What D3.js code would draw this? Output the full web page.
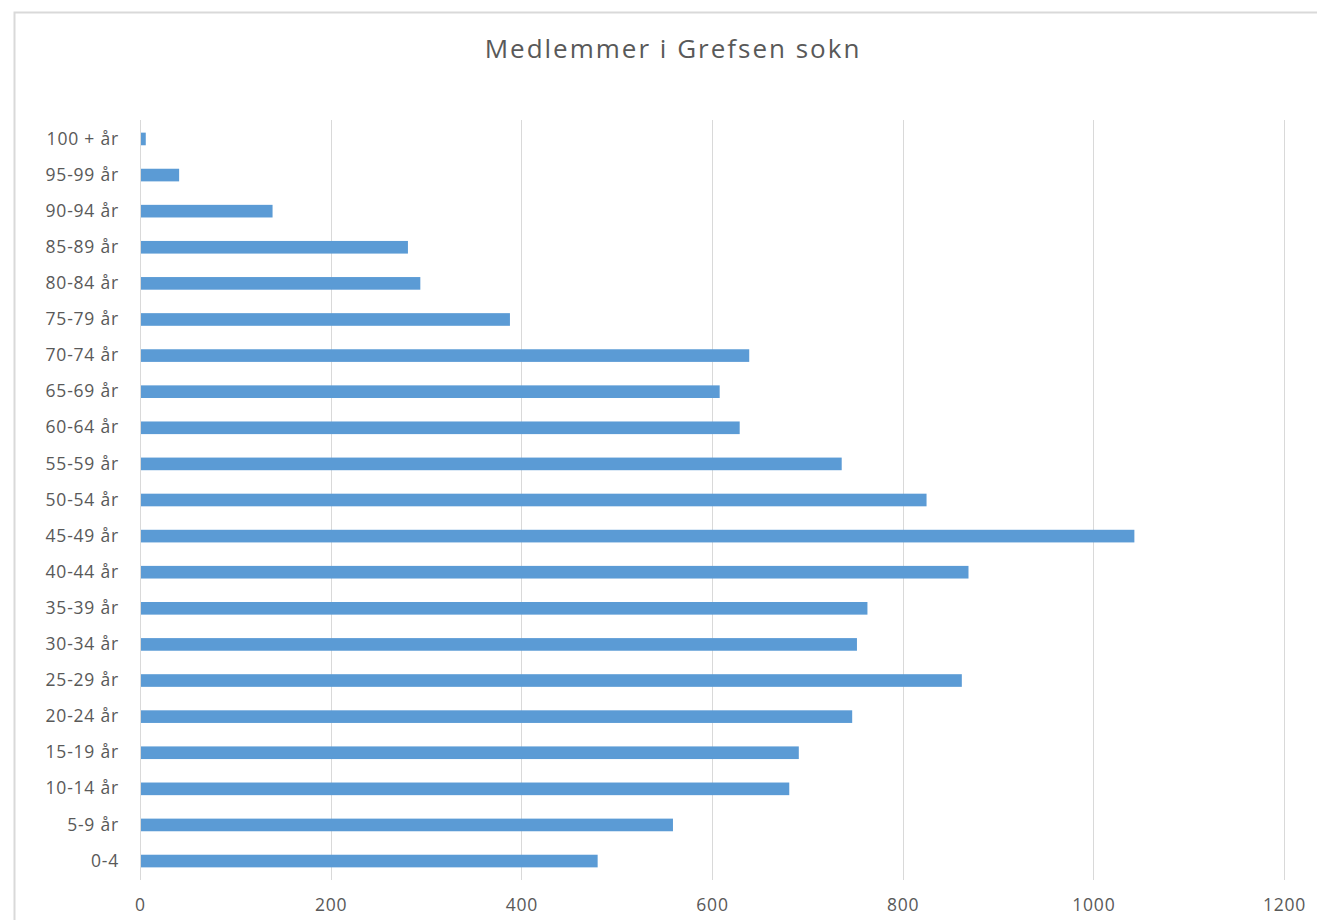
<!DOCTYPE html>
<meta charset="utf-8">
<style>
body {
  margin: 0;
  background-color: #fff;
}
.axis text {
  font: 17.5px "Open Sans", sans-serif;
  letter-spacing: 0.8px;
  fill: #595959;
}
.axis path,
.axis line {
  fill: none;
  stroke: none;
}
.grid line {
  stroke: #d9d9d9;
  stroke-width: 1px;
  shape-rendering: crispEdges;
}
.grid path {
  stroke: none;
}
.bar {
  fill: #5b9bd5;
}
.title {
  font: 26px "Open Sans", sans-serif;
  letter-spacing: 2px;
  fill: #595959;
}
</style>
<body>
<svg width="1317" height="920"></svg>

<script src="https://d3js.org/d3.v7.min.js"></script>
<script>

var categories = ["100 + år", "95-99 år", "90-94 år", "85-89 år", "80-84 år", "75-79 år",
  "70-74 år", "65-69 år", "60-64 år", "55-59 år", "50-54 år", "45-49 år", "40-44 år",
  "35-39 år", "30-34 år", "25-29 år", "20-24 år", "15-19 år", "10-14 år", "5-9 år", "0-4"];
var members = [5, 40, 138, 280, 293, 387, 638, 607, 628, 735, 824, 1042, 868,
  762, 751, 861, 746, 690, 680, 558, 479];
var xTicks = [0, 200, 400, 600, 800, 1000, 1200];

var margin = {top: 120, right: 33, bottom: 40, left: 140},
    width = 1317 - margin.left - margin.right,
    height = 920 - margin.top - margin.bottom;

var svg = d3.select("svg");

// chart frame
svg.append("rect")
  .attr("x", 14.5)
  .attr("y", 12.5)
  .attr("width", 1400)
  .attr("height", 1000)
  .attr("fill", "#fff")
  .attr("stroke", "#d9d9d9")
  .attr("stroke-width", 2);

svg.append("text")
  .attr("class", "title")
  .attr("x", 673)
  .attr("y", 58)
  .attr("text-anchor", "middle")
  .text("Medlemmer i Grefsen sokn");

var g = svg.append("g")
  .attr("transform", "translate(" + margin.left + "," + margin.top + ")");

var x = d3.scaleLinear().domain([0, 1200]).range([0, 1144]);
var y = d3.scaleBand().domain(categories).range([0, 760]).paddingInner(0.65).paddingOuter(0.35);

g.append("g")
  .attr("class", "grid")
  .call(d3.axisBottom(x).tickValues(xTicks).tickSize(760).tickFormat(""));

g.selectAll(".bar")
  .data(members)
  .enter()
  .append("rect")
  .attr("class", "bar")
  .attr("x", x(0) + 1)
  .attr("y", function(d, i) { return y(categories[i]); })
  .attr("width", function(d) { return x(d) - x(0); })
  .attr("height", y.bandwidth());

g.append("g")
  .attr("class", "axis axis--x")
  .attr("transform", "translate(0,773)")
  .call(d3.axisBottom(x).tickValues(xTicks).tickSize(0).tickPadding(6).tickFormat(d3.format("d")));

g.append("g")
  .attr("class", "axis axis--y")
  .call(d3.axisLeft(y).tickSize(0).tickPadding(21));

</script>
</body>
